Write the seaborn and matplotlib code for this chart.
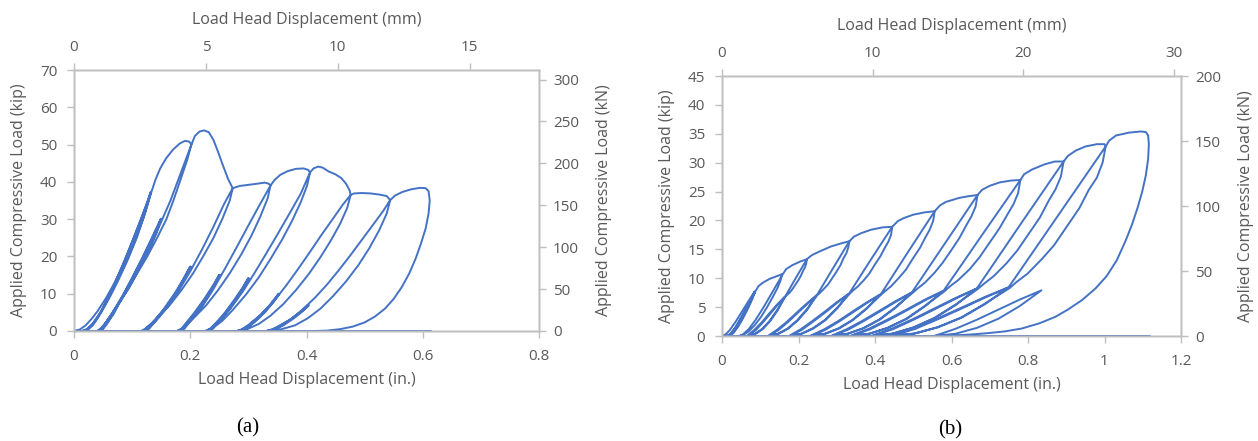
import matplotlib
matplotlib.use("Agg")
import matplotlib.pyplot as plt
import seaborn as sns

# ---- panel (a): displacement (in.), load (kip), one list of points per loading cycle ----
a_cycle0 = [(0, 0), (0.01, 0.4), (0.02, 1.5), (0.03, 3.2), (0.04, 5.2), (0.055, 8.8), (0.07, 13.0), (0.085, 17.8),
            (0.10, 22.8), (0.115, 29.0), (0.132, 37.3),
            (0.127, 35.0), (0.115, 30.0), (0.10, 24.0), (0.085, 18.2), (0.07, 12.8), (0.055, 7.8), (0.042, 4.0),
            (0.031, 1.6), (0.022, 0.4), (0.014, 0),
            (0.022, 0.5), (0.032, 2.0), (0.045, 4.9), (0.06, 9.0), (0.075, 13.6), (0.09, 18.6), (0.105, 24.2),
            (0.12, 30.6), (0.132, 37.0),
            (0.127, 34.8), (0.115, 29.8), (0.10, 23.8), (0.085, 18.0), (0.07, 12.6), (0.055, 7.6), (0.042, 3.8),
            (0.032, 1.5), (0.024, 0.4), (0.017, 0),
            (0.025, 0.6), (0.035, 2.2), (0.048, 5.3), (0.063, 9.5), (0.078, 14.2), (0.093, 19.3), (0.108, 25.0),
            (0.122, 31.4), (0.133, 37.2),
            (0.140, 40.5), (0.148, 43.5), (0.158, 46.2), (0.170, 48.6), (0.182, 50.3), (0.191, 51.0), (0.198, 50.8),
            (0.202, 50.1)]
a_cycle1 = [(0.202, 50.1), (0.195, 46.0), (0.182, 40.0), (0.171, 35.0), (0.159, 30.0), (0.143, 25.0), (0.126, 20.0),
            (0.107, 15.0), (0.088, 10.0), (0.068, 5.2), (0.055, 2.4), (0.047, 0.8), (0.040, 0),
            (0.046, 0.5), (0.055, 2.2), (0.066, 4.8), (0.084, 9.6), (0.101, 14.6), (0.118, 19.8), (0.134, 25.0),
            (0.149, 30.0),
            (0.141, 26.5), (0.128, 21.8), (0.112, 17.0), (0.095, 12.0), (0.077, 7.6), (0.062, 4.0), (0.052, 1.6),
            (0.046, 0.3), (0.043, 0),
            (0.048, 0.5), (0.057, 2.2), (0.068, 4.8), (0.085, 9.6), (0.102, 14.6), (0.119, 19.8), (0.135, 25.0),
            (0.150, 30.1),
            (0.142, 26.4), (0.129, 21.7), (0.113, 16.9), (0.096, 11.9), (0.078, 7.5), (0.063, 3.9), (0.053, 1.5),
            (0.048, 0.3), (0.045, 0),
            (0.050, 0.5), (0.058, 2.2), (0.069, 4.8), (0.086, 10.0), (0.104, 15.0), (0.122, 20.0), (0.138, 25.0),
            (0.152, 30.0), (0.166, 35.0), (0.178, 40.0), (0.190, 45.0), (0.202, 50.0),
            (0.208, 52.3), (0.216, 53.5), (0.224, 53.8), (0.232, 53.3), (0.240, 51.2), (0.248, 48.0), (0.256, 44.5),
            (0.265, 40.8), (0.273, 38.3)]
a_cycle2 = [(0.273, 38.3), (0.268, 35.0), (0.255, 30.0), (0.240, 25.0), (0.224, 20.5), (0.205, 15.5), (0.185, 11.0),
            (0.165, 7.0), (0.145, 3.8), (0.130, 1.5), (0.121, 0.4), (0.116, 0),
            (0.122, 0.5), (0.135, 2.3), (0.155, 5.8), (0.175, 10.2), (0.200, 17.3),
            (0.19, 14.4), (0.175, 10.5), (0.155, 6.0), (0.138, 2.6), (0.127, 0.7), (0.119, 0),
            (0.125, 0.6), (0.137, 2.4), (0.157, 6.0), (0.177, 10.5), (0.201, 17.2),
            (0.191, 14.3), (0.176, 10.4), (0.156, 5.9), (0.139, 2.5), (0.129, 0.6), (0.122, 0),
            (0.128, 0.6), (0.14, 2.5), (0.16, 6.2), (0.18, 10.8), (0.20, 16.0), (0.22, 21.8), (0.24, 28.0),
            (0.258, 34.0), (0.273, 38.3),
            (0.285, 38.9), (0.300, 39.2), (0.315, 39.5), (0.328, 39.8), (0.335, 39.5), (0.338, 39.0)]
a_cycle3 = [(0.338, 39.0), (0.333, 35.5), (0.320, 30.5), (0.305, 25.5), (0.288, 20.6), (0.268, 15.5), (0.248, 11.0),
            (0.228, 7.0), (0.208, 3.8), (0.192, 1.4), (0.183, 0.4), (0.177, 0),
            (0.184, 0.5), (0.195, 2.2), (0.215, 5.8), (0.232, 9.8), (0.250, 15.1),
            (0.24, 12.4), (0.225, 8.8), (0.207, 4.9), (0.192, 2.0), (0.185, 0.6), (0.180, 0),
            (0.187, 0.6), (0.197, 2.3), (0.217, 6.0), (0.234, 10.1), (0.251, 15.0),
            (0.241, 12.3), (0.226, 8.7), (0.208, 4.8), (0.193, 1.9), (0.187, 0.5), (0.183, 0),
            (0.190, 0.6), (0.20, 2.6), (0.22, 6.4), (0.24, 11.3), (0.26, 16.8), (0.28, 22.5), (0.30, 28.3),
            (0.32, 34.0), (0.338, 39.0),
            (0.345, 40.5), (0.355, 41.9), (0.368, 42.9), (0.382, 43.5), (0.395, 43.6), (0.403, 43.2), (0.406, 42.5)]
a_cycle4 = [(0.406, 42.5), (0.401, 39.0), (0.390, 34.5), (0.375, 29.5), (0.358, 24.5), (0.338, 19.3), (0.318, 14.4),
            (0.296, 9.8), (0.274, 5.8), (0.255, 2.7), (0.238, 0.8), (0.226, 0),
            (0.233, 0.5), (0.245, 2.1), (0.265, 5.5), (0.283, 9.5), (0.300, 14.2),
            (0.29, 11.6), (0.275, 8.2), (0.258, 4.6), (0.242, 1.8), (0.234, 0.5), (0.229, 0),
            (0.236, 0.6), (0.247, 2.2), (0.267, 5.7), (0.285, 9.8), (0.301, 14.1),
            (0.291, 11.5), (0.276, 8.1), (0.259, 4.5), (0.243, 1.7), (0.236, 0.5), (0.232, 0),
            (0.239, 0.6), (0.25, 2.5), (0.27, 6.2), (0.29, 10.5), (0.31, 15.4), (0.33, 20.6), (0.35, 25.9),
            (0.37, 31.3), (0.39, 36.8), (0.406, 42.5),
            (0.412, 43.6), (0.420, 44.1), (0.428, 43.8), (0.438, 42.8), (0.450, 42.0), (0.460, 41.0), (0.468, 39.5),
            (0.474, 37.8), (0.476, 36.5)]
a_cycle5 = [(0.476, 36.5), (0.470, 33.0), (0.458, 28.8), (0.442, 24.3), (0.424, 19.8), (0.404, 15.3), (0.382, 11.0),
            (0.360, 7.2), (0.338, 4.1), (0.318, 1.9), (0.298, 0.5), (0.28, 0),
            (0.288, 0.4), (0.30, 1.6), (0.32, 4.2), (0.337, 7.0), (0.352, 10.0),
            (0.343, 8.0), (0.328, 5.2), (0.31, 2.5), (0.294, 0.7), (0.283, 0),
            (0.291, 0.4), (0.302, 1.7), (0.322, 4.4), (0.339, 7.2), (0.353, 9.9),
            (0.344, 7.9), (0.329, 5.1), (0.311, 2.4), (0.296, 0.6), (0.286, 0),
            (0.294, 0.4), (0.305, 1.8), (0.325, 4.6), (0.345, 8.2), (0.365, 12.2), (0.385, 16.5), (0.405, 21.0),
            (0.425, 25.6), (0.445, 30.0), (0.462, 33.8), (0.476, 36.5),
            (0.482, 36.9), (0.495, 37.0), (0.510, 36.9), (0.525, 36.6), (0.538, 36.2), (0.544, 35.1)]
a_cycle6 = [(0.544, 35.1), (0.538, 31.5), (0.525, 27.0), (0.508, 22.2), (0.489, 17.6), (0.468, 13.3), (0.446, 9.4),
            (0.424, 6.0), (0.402, 3.4), (0.38, 1.5), (0.355, 0.4), (0.33, 0),
            (0.34, 0.4), (0.352, 1.3), (0.37, 2.9), (0.388, 4.9), (0.403, 7.0),
            (0.393, 5.5), (0.378, 3.6), (0.36, 1.7), (0.344, 0.5), (0.333, 0),
            (0.343, 0.4), (0.354, 1.4), (0.372, 3.0), (0.39, 5.0), (0.404, 6.9),
            (0.394, 5.4), (0.379, 3.5), (0.361, 1.6), (0.346, 0.4), (0.336, 0),
            (0.346, 0.4), (0.357, 1.4), (0.375, 3.4), (0.395, 6.0), (0.415, 9.0), (0.435, 12.4), (0.455, 16.2),
            (0.475, 20.2), (0.495, 24.4), (0.515, 28.6), (0.532, 32.2), (0.544, 35.1),
            (0.552, 36.3), (0.565, 37.3), (0.580, 38.0), (0.595, 38.4), (0.605, 38.3), (0.610, 37.5),
            (0.612, 35.0), (0.610, 31.5), (0.605, 27.5), (0.597, 23.5), (0.588, 19.5), (0.577, 15.5), (0.564, 11.8),
            (0.550, 8.6), (0.535, 6.0), (0.518, 3.9), (0.500, 2.3), (0.480, 1.2), (0.458, 0.5), (0.435, 0.1),
            (0.41, 0)]
a_base = [(0, 0), (0.614, 0)]

# ---- panel (b) ----
b_cycle0 = [(0, 0), (0.01, 0.3), (0.02, 1.0), (0.035, 2.4), (0.05, 4.0), (0.067, 5.8), (0.085, 7.7),
            (0.079, 6.6), (0.068, 5.0), (0.055, 3.3), (0.042, 1.8), (0.03, 0.7), (0.02, 0.15), (0.013, 0),
            (0.022, 0.4), (0.035, 1.5), (0.05, 3.2), (0.068, 5.3), (0.086, 7.6),
            (0.080, 6.5), (0.069, 4.9), (0.056, 3.2), (0.043, 1.7), (0.031, 0.6), (0.022, 0.1), (0.016, 0),
            (0.025, 0.5), (0.038, 1.7), (0.053, 3.5), (0.07, 5.5), (0.087, 7.7),
            (0.095, 8.6), (0.106, 9.2), (0.125, 9.9), (0.145, 10.4), (0.157, 10.7)]
b_cycle1 = [(0.157, 10.7), (0.153, 9.6), (0.145, 8.3), (0.133, 6.8), (0.118, 5.0), (0.102, 3.3), (0.086, 1.9),
            (0.07, 0.8), (0.056, 0.2), (0.045, 0),
            (0.055, 0.3), (0.07, 1.2), (0.088, 2.8), (0.108, 4.9), (0.13, 7.4), (0.158, 10.6),
            (0.168, 11.6), (0.185, 12.3), (0.205, 12.9), (0.222, 13.3)]
b_cycle2 = [(0.222, 13.3), (0.220, 12.5), (0.217, 11.9), (0.212, 11.3), (0.206, 10.4), (0.199, 9.6), (0.191, 8.8),
            (0.184, 8.1), (0.176, 7.45), (0.169, 7.05), (0.165, 6.75),
            (0.144, 4.49), (0.124, 2.58), (0.105, 1.22), (0.085, 0.34), (0.065, 0),
            (0.085, 1.09), (0.105, 2.45), (0.124, 3.94), (0.144, 5.44), (0.164, 6.8),
            (0.146, 4.49), (0.126, 2.58), (0.107, 1.22), (0.087, 0.34), (0.068, 0),
            (0.088, 1.0), (0.107, 2.35), (0.126, 3.84), (0.145, 5.35), (0.165, 6.8),
            (0.193, 10.05), (0.222, 13.3),
            (0.235, 14.0), (0.254, 14.6), (0.285, 15.5), (0.31, 16.0), (0.333, 16.4)]
b_cycle3 = [(0.333, 16.4), (0.330, 15.3), (0.325, 14.3), (0.318, 13.5), (0.310, 12.3), (0.299, 11.1), (0.287, 9.9),
            (0.277, 8.9), (0.264, 8.0), (0.255, 7.4), (0.248, 7.0),
            (0.222, 4.65), (0.196, 2.68), (0.171, 1.27), (0.145, 0.35), (0.12, 0),
            (0.145, 1.13), (0.171, 2.54), (0.196, 4.09), (0.222, 5.64), (0.247, 7.05),
            (0.224, 4.65), (0.198, 2.68), (0.173, 1.27), (0.147, 0.35), (0.123, 0),
            (0.148, 1.05), (0.173, 2.45), (0.198, 4.0), (0.223, 5.55), (0.248, 7.05),
            (0.290, 11.7), (0.333, 16.4),
            (0.345, 17.2), (0.364, 17.8), (0.39, 18.4), (0.42, 18.8), (0.445, 18.9)]
b_cycle4 = [(0.445, 18.9), (0.442, 17.5), (0.435, 16.35), (0.426, 15.3), (0.414, 13.8), (0.399, 12.3), (0.385, 10.8),
            (0.370, 9.6), (0.354, 8.5), (0.341, 7.8), (0.333, 7.25),
            (0.300, 4.82), (0.269, 2.77), (0.237, 1.31), (0.206, 0.37), (0.175, 0),
            (0.206, 1.17), (0.237, 2.63), (0.269, 4.23), (0.300, 5.84), (0.331, 7.3),
            (0.302, 4.82), (0.271, 2.77), (0.239, 1.31), (0.208, 0.37), (0.178, 0),
            (0.209, 1.08), (0.239, 2.53), (0.271, 4.13), (0.301, 5.75), (0.332, 7.3),
            (0.388, 13.1), (0.445, 18.9),
            (0.46, 19.9), (0.475, 20.4), (0.50, 21.0), (0.53, 21.4), (0.556, 21.6)]
b_cycle5 = [(0.556, 21.6), (0.552, 19.9), (0.543, 18.4), (0.532, 17.1), (0.518, 15.3), (0.499, 13.4), (0.481, 11.5),
            (0.463, 10.1), (0.442, 8.6), (0.427, 7.8), (0.416, 7.15),
            (0.377, 4.75), (0.340, 2.74), (0.304, 1.30), (0.267, 0.36), (0.23, 0),
            (0.267, 1.15), (0.304, 2.59), (0.340, 4.18), (0.377, 5.76), (0.414, 7.2),
            (0.379, 4.75), (0.342, 2.74), (0.306, 1.30), (0.269, 0.36), (0.233, 0),
            (0.270, 1.06), (0.306, 2.5), (0.342, 4.08), (0.378, 5.67), (0.415, 7.2),
            (0.485, 14.4), (0.556, 21.6),
            (0.57, 22.6), (0.585, 23.2), (0.62, 23.9), (0.645, 24.2), (0.668, 24.4)]
b_cycle6 = [(0.668, 24.4), (0.663, 22.4), (0.652, 20.7), (0.639, 19.2), (0.621, 17.0), (0.599, 14.8), (0.576, 12.6),
            (0.555, 10.9), (0.530, 9.2), (0.511, 8.2), (0.498, 7.45),
            (0.453, 4.95), (0.411, 2.85), (0.369, 1.35), (0.327, 0.38), (0.285, 0),
            (0.327, 1.2), (0.369, 2.7), (0.411, 4.35), (0.453, 6.0), (0.495, 7.5),
            (0.455, 4.95), (0.413, 2.85), (0.371, 1.35), (0.329, 0.38), (0.288, 0),
            (0.330, 1.1), (0.371, 2.6), (0.413, 4.25), (0.454, 5.9), (0.496, 7.5),
            (0.582, 15.95), (0.668, 24.4),
            (0.68, 25.3), (0.70, 26.0), (0.727, 26.6), (0.755, 26.9), (0.78, 27.0)]
b_cycle7 = [(0.78, 27.0), (0.774, 24.7), (0.762, 22.8), (0.746, 21.0), (0.725, 18.6), (0.699, 16.1), (0.673, 13.6),
            (0.648, 11.6), (0.618, 9.7), (0.596, 8.6), (0.581, 7.7),
            (0.529, 5.15), (0.481, 2.96), (0.432, 1.40), (0.384, 0.39), (0.335, 0),
            (0.384, 1.25), (0.432, 2.81), (0.481, 4.52), (0.529, 6.24), (0.578, 7.8),
            (0.531, 5.15), (0.483, 2.96), (0.434, 1.40), (0.386, 0.39), (0.338, 0),
            (0.387, 1.15), (0.434, 2.7), (0.483, 4.42), (0.530, 6.15), (0.579, 7.8),
            (0.679, 17.4), (0.78, 27.0),
            (0.79, 28.0), (0.81, 28.8), (0.843, 29.7), (0.87, 30.2), (0.893, 30.2)]
b_cycle8 = [(0.893, 30.2), (0.886, 27.6), (0.872, 25.4), (0.854, 23.4), (0.831, 20.5), (0.802, 17.7), (0.772, 14.8),
            (0.744, 12.6), (0.711, 10.4), (0.686, 9.1), (0.668, 8.1),
            (0.610, 5.41), (0.555, 3.12), (0.50, 1.48), (0.445, 0.41), (0.39, 0),
            (0.445, 1.31), (0.50, 2.95), (0.555, 4.76), (0.610, 6.56), (0.665, 8.2),
            (0.612, 5.41), (0.557, 3.12), (0.502, 1.48), (0.447, 0.41), (0.393, 0),
            (0.448, 1.2), (0.502, 2.85), (0.557, 4.66), (0.611, 6.47), (0.666, 8.2),
            (0.779, 19.2), (0.893, 30.2),
            (0.905, 31.2), (0.925, 32.1), (0.95, 32.8), (0.98, 33.2), (1.0, 33.2), (1.003, 32.8)]
b_cycle9 = [(1.003, 32.8), (0.995, 30.0), (0.98, 27.4), (0.959, 25.3), (0.934, 22.1), (0.901, 18.9), (0.868, 15.7),
            (0.836, 13.3), (0.799, 10.8), (0.771, 9.4), (0.752, 8.3),
            (0.686, 5.54), (0.625, 3.19), (0.563, 1.51), (0.502, 0.42), (0.44, 0),
            (0.502, 1.34), (0.563, 3.02), (0.625, 4.87), (0.686, 6.72), (0.748, 8.4),
            (0.688, 5.54), (0.627, 3.19), (0.565, 1.51), (0.504, 0.42), (0.443, 0),
            (0.505, 1.23), (0.565, 2.92), (0.627, 4.77), (0.687, 6.63), (0.749, 8.4),
            (0.876, 20.6), (1.003, 32.8),
            (1.012, 33.8), (1.03, 34.7), (1.064, 35.2), (1.095, 35.4), (1.108, 35.3), (1.114, 34.7)]
b_cycle10 = [(1.114, 34.7), (1.116, 33.2), (1.114, 30.6), (1.108, 27.8), (1.099, 25.1), (1.087, 22.3), (1.072, 19.3),
             (1.054, 16.3), (1.032, 13.1), (1.006, 10.4), (0.976, 8.2), (0.941, 6.2), (0.905, 4.6), (0.871, 3.3),
             (0.83, 2.2), (0.784, 1.3), (0.74, 0.8), (0.696, 0.5), (0.65, 0.25), (0.60, 0.1), (0.555, 0),
             (0.611, 1.26), (0.667, 2.84), (0.723, 4.58), (0.779, 6.32), (0.835, 7.9),
             (0.779, 5.21), (0.723, 3.0), (0.667, 1.42), (0.611, 0.40), (0.555, 0)]
b_base = [(0, 0), (1.119, 0)]

a_cycles = [a_cycle0, a_cycle1, a_cycle2, a_cycle3, a_cycle4, a_cycle5, a_cycle6, a_base]
b_cycles = [b_cycle0, b_cycle1, b_cycle2, b_cycle3, b_cycle4, b_cycle5, b_cycle6, b_cycle7,
            b_cycle8, b_cycle9, b_cycle10, b_base]

KIP_TO_KN = 4.448
IN_TO_MM = 25.4

sns.set_theme(style="white")
plt.rcParams['font.family'] = ['Open Sans', 'DejaVu Sans']

BLUE = "#4472C4"
GRID = "#BFBFBF"
TXT = "#595959"

fig = plt.figure(figsize=(12.58, 4.41), dpi=100)


def draw_panel(rect, cycles, xmax, xticks, ymax, yticks, mm_max, mm_ticks, kn_max, kn_ticks, tag, tag_x, tag_y):
    ax = fig.add_axes(rect)
    for cyc in cycles:
        xs = [p[0] for p in cyc]
        ys = [p[1] for p in cyc]
        sns.lineplot(x=xs, y=ys, ax=ax, sort=False, estimator=None, color=BLUE, lw=1.4)
    ax.set_xlim(0, xmax)
    ax.set_ylim(0, ymax)
    ax.set_xticks(xticks)
    ax.set_xticklabels([("%g" % t) for t in xticks])
    ax.set_yticks(yticks)
    ax.set_xlabel("Load Head Displacement (in.)", color=TXT, fontsize=11.5, labelpad=6)
    ax.set_ylabel("Applied Compressive Load (kip)", color=TXT, fontsize=11.5, labelpad=9)

    top = ax.twiny()
    top.set_xlim(0, mm_max)
    top.set_xticks(mm_ticks)
    top.set_xlabel("Load Head Displacement (mm)", color=TXT, fontsize=11.5, labelpad=11)

    right = ax.twinx()
    right.set_ylim(0, kn_max)
    right.set_yticks(kn_ticks)
    right.set_ylabel("Applied Compressive Load (kN)", color=TXT, fontsize=11.5, labelpad=12)

    for a in (ax, top, right):
        for s in a.spines.values():
            s.set_color(GRID)
            s.set_linewidth(1.0)
        a.tick_params(colors=TXT, labelsize=11, length=5, width=1.0, color=GRID, direction="out")
    ax.tick_params(axis="x", pad=8)
    ax.tick_params(axis="y", pad=7)
    top.tick_params(axis="x", pad=6)
    right.tick_params(axis="y", pad=5)
    ax.text(tag_x, tag_y, tag, transform=ax.transAxes, ha="center", va="center",
            fontsize=15, family="Liberation Serif", color="black")
    return ax


draw_panel([74 / 1258, 110 / 441, 465 / 1258, 261 / 441], a_cycles,
           0.8, [0, 0.2, 0.4, 0.6, 0.8], 70, list(range(0, 71, 10)),
           17.63, [0, 5, 10, 15], 70 * KIP_TO_KN, list(range(0, 301, 50)), "(a)", 0.374, -0.372)
draw_panel([722 / 1258, 105 / 441, 459 / 1258, 260 / 441], b_cycles,
           1.2, [0, 0.2, 0.4, 0.6, 0.8, 1.0, 1.2], 45, list(range(0, 46, 5)),
           1.2 * IN_TO_MM, [0, 10, 20, 30], 45 * KIP_TO_KN, list(range(0, 201, 50)), "(b)", 0.497, -0.362)

fig.savefig("out.png", dpi=100)
